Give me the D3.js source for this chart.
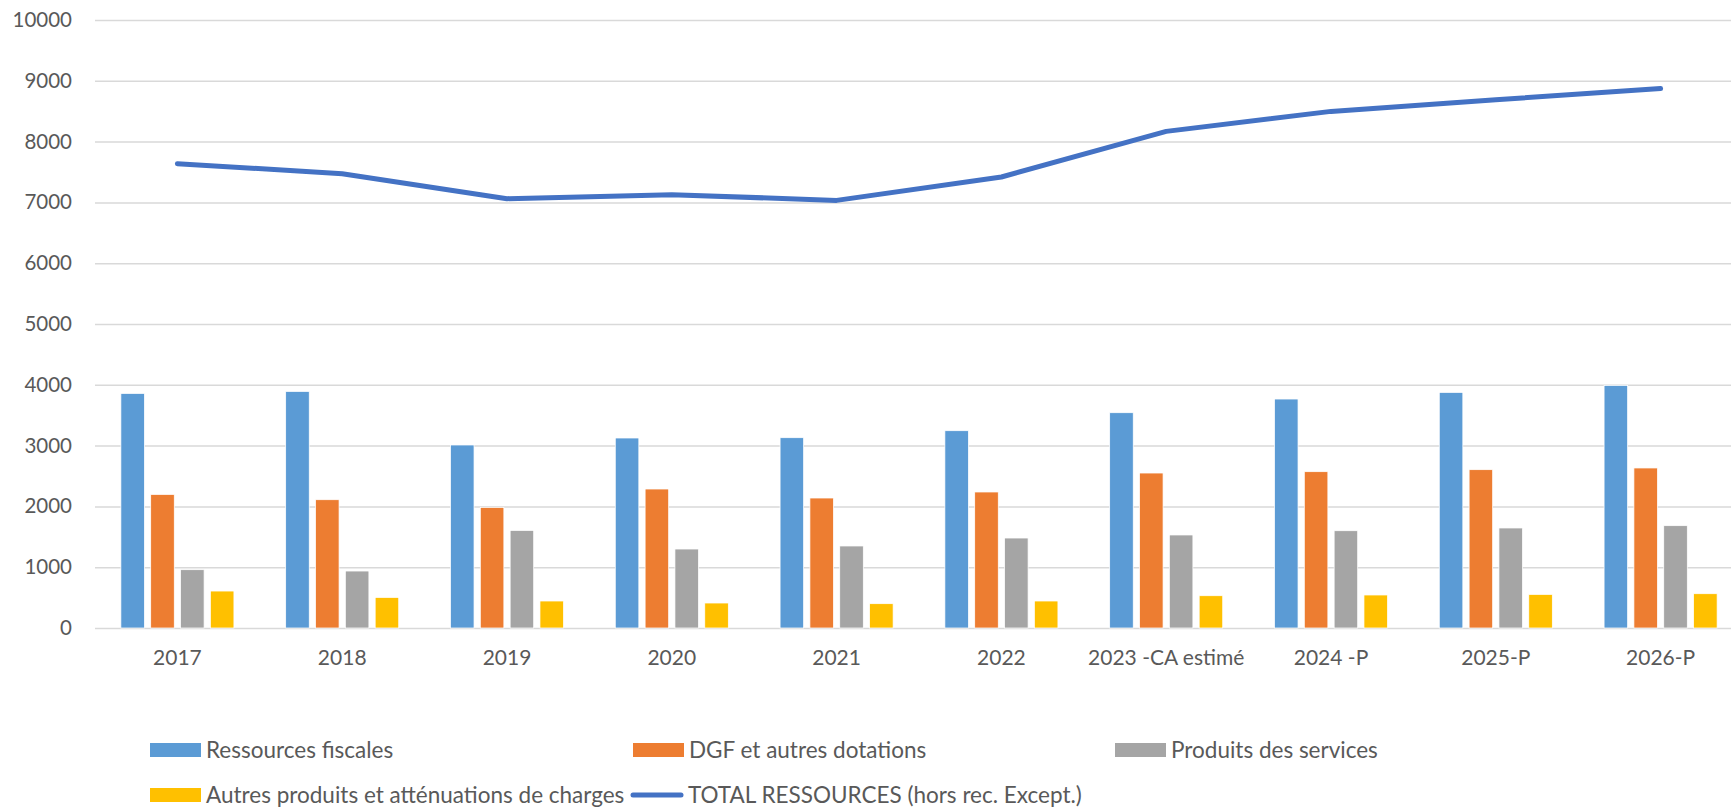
<!DOCTYPE html>
<html>
<head>
<meta charset="utf-8">
<script src="https://cdn.jsdelivr.net/npm/d3@7"></script>
<style>
  body { margin: 0; background: #fff; }
  text { font-family: Lato, "Open Sans", sans-serif; fill: #595959; }
</style>
</head>
<body>
<div id="chart"></div>
<script>
var categories = ["2017", "2018", "2019", "2020", "2021", "2022", "2023 -CA estimé", "2024 -P", "2025-P", "2026-P"];
var fiscales   = [3858, 3891, 3010, 3125, 3130, 3245, 3541, 3766, 3875, 3990];
var dgf        = [2197, 2110, 1984, 2286, 2138, 2237, 2549, 2571, 2604, 2632];
var services   = [959, 937, 1605, 1299, 1349, 1480, 1530, 1600, 1645, 1683];
var autres     = [608, 503, 444, 411, 400, 444, 531, 543, 553, 564];
var total      = [7637, 7472, 7061, 7127, 7033, 7418, 8168, 8497, 8689, 8872];
var yTicks     = [0, 1000, 2000, 3000, 4000, 5000, 6000, 7000, 8000, 9000, 10000];

var barSeries = [
  { name: "Ressources fiscales", values: fiscales, color: "#5B9BD5" },
  { name: "DGF et autres dotations", values: dgf, color: "#ED7D31" },
  { name: "Produits des services", values: services, color: "#A5A5A5" },
  { name: "Autres produits et atténuations de charges", values: autres, color: "#FFC000" }
];
var lineName = "TOTAL RESSOURCES (hors rec. Except.)";
var lineColor = "#4472C4";

function init()
{
    var w = 1731;
    var h = 807;
    var left = 95, right = 1743, top = 20, bottom = 628;

    var svg = d3.select("#chart")
                .append("svg")
                .attr("width", w)
                .attr("height", h);

    var x0 = d3.scaleBand()
        .domain(categories)
        .range([left, right])
        .paddingInner(0.314)
        .paddingOuter(0.157);

    var x1 = d3.scaleBand()
        .domain(barSeries.map(function(s) { return s.name; }))
        .range([0, x0.bandwidth()])
        .paddingInner(0.21);

    var y = d3.scaleLinear()
        .domain([0, 10000])
        .range([bottom, top]);

    // grid + y labels
    var yAxis = d3.axisLeft(y)
        .tickValues(yTicks)
        .tickSize(-(right - left))
        .tickPadding(23)
        .tickFormat(d3.format("d"));

    var gy = svg.append("g")
        .attr("transform", "translate(" + left + ",0)")
        .call(yAxis);
    gy.select(".domain").remove();
    gy.selectAll(".tick line")
        .attr("stroke", "#D9D9D9")
        .attr("stroke-width", 1.5);
    gy.selectAll(".tick text")
        .style("font-size", "20.5px")
        .style("font-family", "Lato, sans-serif")
        .attr("fill", "#595959");

    // x labels
    var xAxis = d3.axisBottom(x0).tickSize(0).tickPadding(22);
    var gx = svg.append("g")
        .attr("transform", "translate(0," + bottom + ")")
        .call(xAxis);
    gx.select(".domain").remove();
    gx.selectAll(".tick text")
        .style("font-size", "21px")
        .style("font-family", "Lato, sans-serif")
        .attr("fill", "#595959");

    // bars
    var groups = svg.selectAll("g.cat")
        .data(categories)
        .enter()
        .append("g")
        .attr("class", "cat")
        .attr("transform", function(d) { return "translate(" + x0(d) + ",0)"; });

    groups.selectAll("rect")
        .data(function(d, i) {
            return barSeries.map(function(s) { return { name: s.name, v: s.values[i], color: s.color }; });
        })
        .enter()
        .append("rect")
        .attr("x", function(d) { return x1(d.name); })
        .attr("y", function(d) { return y(d.v); })
        .attr("width", x1.bandwidth())
        .attr("height", function(d) { return bottom - y(d.v); })
        .style("fill", function(d) { return d.color; })
        .style("stroke", "#fff")
        .style("stroke-width", 0.75);

    // total line
    var line = d3.line()
        .x(function(d, i) { return x0(categories[i]) + x0.bandwidth() / 2; })
        .y(function(d) { return y(d); });

    svg.append("path")
        .datum(total)
        .attr("d", line)
        .attr("fill", "none")
        .attr("stroke", lineColor)
        .attr("stroke-width", 5)
        .attr("stroke-linecap", "round")
        .attr("stroke-linejoin", "round");

    // legend
    var legendPos = [[150, 750], [633, 750], [1115, 750], [150, 795], [630, 795]];
    var items = barSeries.map(function(s) { return { name: s.name, color: s.color, type: "bar" }; });
    items.push({ name: lineName, color: lineColor, type: "line" });

    var lg = svg.selectAll("g.leg")
        .data(items)
        .enter()
        .append("g")
        .attr("class", "leg")
        .attr("transform", function(d, i) { return "translate(" + legendPos[i][0] + "," + legendPos[i][1] + ")"; });

    lg.filter(function(d) { return d.type === "bar"; })
        .append("rect")
        .attr("x", 0)
        .attr("y", -7)
        .attr("width", 51)
        .attr("height", 14)
        .style("fill", function(d) { return d.color; });

    lg.filter(function(d) { return d.type === "line"; })
        .append("line")
        .attr("x1", 3)
        .attr("x2", 51)
        .attr("stroke", function(d) { return d.color; })
        .attr("stroke-width", 5)
        .attr("stroke-linecap", "round");

    lg.append("text")
        .attr("x", function(d) { return d.type === "line" ? 58 : 56; })
        .attr("dy", "0.35em")
        .style("font-size", "22.5px")
        .text(function(d) { return d.name; });
}
window.onload = init;
</script>
</body>
</html>
